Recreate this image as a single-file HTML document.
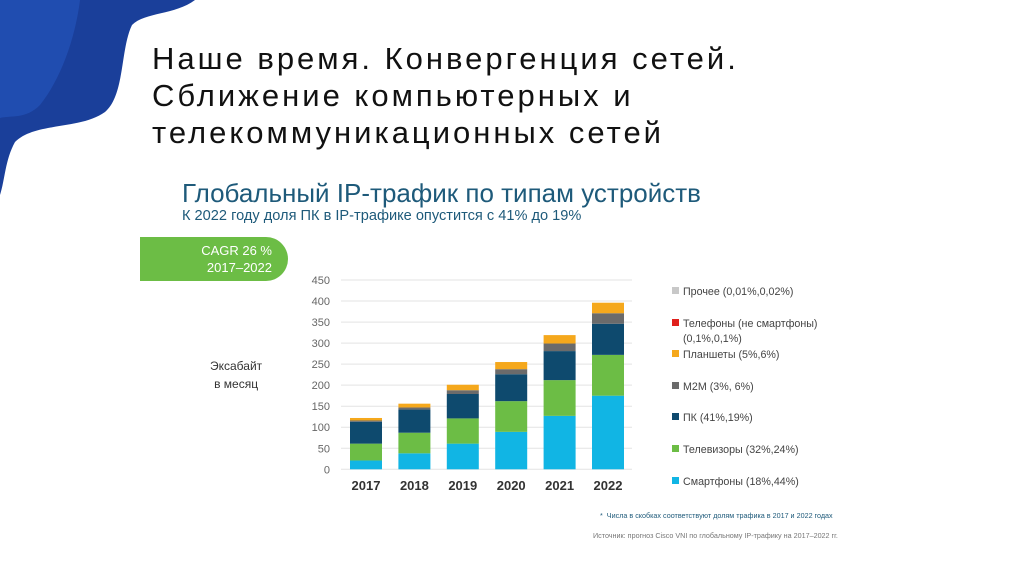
<!DOCTYPE html>
<html><head><meta charset="utf-8"><style>
body{margin:0;width:1024px;height:574px;background:#fff;position:relative;overflow:hidden;font-family:"Liberation Sans","DejaVu Sans",sans-serif}
.t{position:absolute}
</style></head><body>
<svg class="t" style="left:0;top:0" width="240" height="200">
<path d="M0 0 L195 0 C175 15 145 12 132 25 C120 50 125 95 105 112 C80 130 35 122 15 142 C5 160 5 180 0 195 Z" fill="#1a3f9a"/>
<path d="M0 0 L80 0 C75 40 60 80 40 105 C25 120 10 115 0 118 Z" fill="#2456c0" opacity="0.6"/>
</svg>
<div class="t" style="left:152px;top:40px;font-size:31px;line-height:37px;color:#111;letter-spacing:3px">Наше время. Конвергенция сетей.<br>Сближение компьютерных и<br>телекоммуникационных сетей</div>
<div class="t" style="left:182px;top:178px;font-size:26px;color:#1e5a7a">Глобальный IP-трафик по типам устройств</div>
<div class="t" style="left:182px;top:208px;font-size:14.6px;color:#1e5a7a">К 2022 году доля ПК в IP-трафике опустится с 41% до 19%</div>
<div class="t" style="left:140px;top:237px;width:148px;height:44px;background:#6cbd45;border-radius:0 22px 22px 0;color:#fff;font-size:13px;text-align:right;box-sizing:border-box;padding:5px 16px 0 0;line-height:17px">CAGR 26 %<br>2017–2022</div>
<div class="t" style="left:210px;top:357px;font-size:12px;color:#333;text-align:center;line-height:18px">Эксабайт<br>в месяц</div>
<svg class="t" id="chart" style="left:0;top:0" width="1024" height="574"></svg>
<div class="t" style="left:600px;top:511px;font-size:7.2px;color:#1e5a7a">*&nbsp; Числа в скобках соответствуют долям трафика в 2017 и 2022 годах</div>
<div class="t" style="left:593px;top:531px;font-size:7.2px;color:#777">Источник: прогноз Cisco VNI по глобальному IP-трафику на 2017–2022 гг.</div>
<script>
const years=["2017","2018","2019","2020","2021","2022"];
const smart=[21,38,61,89,127,175];
const tv=[40,49,60,73,85,97];
const pc=[52,55,58,64,69,74];
const m2m=[3,5,9,12,18,25];
const tablets=[6,9,13,17,20,25];
const yTicks=[0,50,100,150,200,250,300,350,400,450];
const legendLabels=["Прочее (0,01%,0,02%)","Телефоны (не смартфоны)|(0,1%,0,1%)","Планшеты (5%,6%)","M2M (3%, 6%)","ПК (41%,19%)","Телевизоры (32%,24%)","Смартфоны (18%,44%)"];
const ns="http://www.w3.org/2000/svg",svg=document.getElementById("chart");
const y0=469.3,ppu=189.3/450,x0=366,step=48.4,bw=32;
const Y=v=>y0-v*ppu, X=i=>x0+i*step;
function mk(t,a){const e=document.createElementNS(ns,t);for(const k in a)e.setAttribute(k,a[k]);svg.appendChild(e);return e;}
yTicks.forEach(v=>{
 const l=mk("line",{x1:341,x2:632,y1:Y(v),y2:Y(v),stroke:"#e3e3e3","stroke-width":1});
 
 
 const t=mk("text",{x:330,y:Y(v)+4,"text-anchor":"end","font-size":11,fill:"#666"});t.textContent=v;
 
 
});
const series=[[smart,"#11b5e4","smartphones"],[tv,"#6cbd45","tv"],[pc,"#0e4a6e","pc"],[m2m,"#6b6b6b","m2m"],[tablets,"#f5a81c","tablets"]];
years.forEach((yr,i)=>{
 let c=0;
 series.forEach(([arr,col,nm])=>{
  const r=mk("rect",{x:X(i)-bw/2,y:Y(c+arr[i]),width:bw,height:arr[i]*ppu,fill:col});
  
  
  c+=arr[i];
 });
 const t=mk("text",{x:X(i),y:490,"text-anchor":"middle","font-size":13,"font-weight":"bold",fill:"#333"});t.textContent=yr;
 
 
});
const lcol=["#c8c8c8","#e0201c","#f5a81c","#6b6b6b","#0e4a6e","#6cbd45","#11b5e4"];
const ly=[292,324,355,387,418,450,482];
legendLabels.forEach((s,i)=>{
 const r=mk("rect",{x:672,y:ly[i]-5,width:7,height:7,fill:lcol[i]});
 
 
 const parts=s.split("|");
 parts.forEach((p,j)=>{
  const t=mk("text",{x:683,y:ly[i]+3+j*15,"font-size":10.7,fill:"#444"});t.textContent=p;
  
  
 });
});
</script>
</body></html>
